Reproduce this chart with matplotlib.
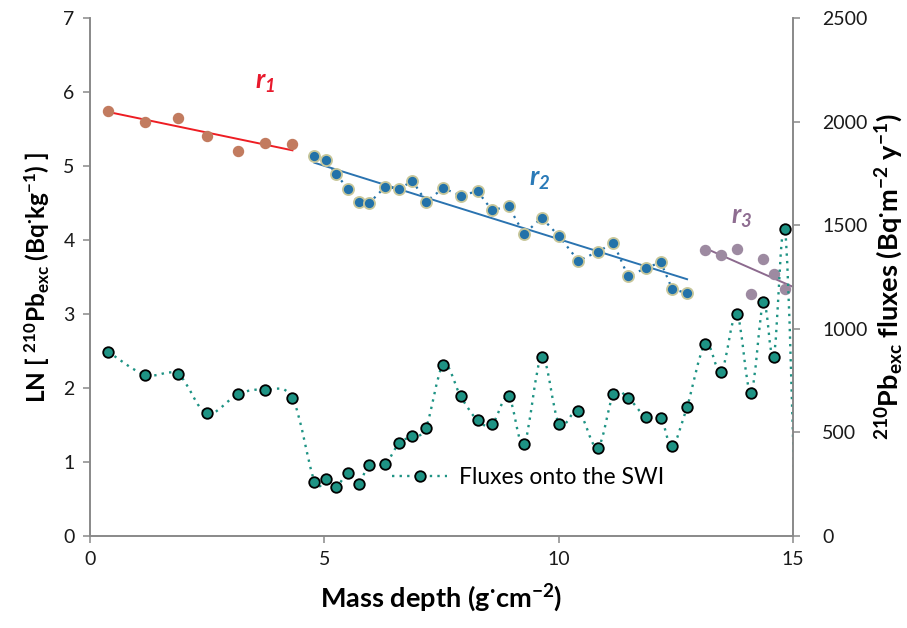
"""
210Pb excess profile: LN activity vs mass depth with three regression
segments (r1, r2, r3) and the fluxes onto the SWI on a secondary axis.
"""
import numpy as np
import matplotlib
matplotlib.use('Agg')
import matplotlib.pyplot as plt
from matplotlib.path import Path
from matplotlib.patches import PathPatch
from matplotlib.lines import Line2D

plt.rcParams['font.family'] = ['Lato', 'DejaVu Sans']
plt.rcParams['mathtext.fontset'] = 'custom'
plt.rcParams['mathtext.rm'] = 'Lato'
plt.rcParams['mathtext.it'] = 'Lato:italic'
plt.rcParams['mathtext.bf'] = 'Lato:bold'
plt.rcParams['mathtext.default'] = 'regular'

# segment r1
depth_r1 = [0.39, 1.18, 1.88, 2.49, 3.16, 3.74, 4.32]
ln_r1 = [5.75, 5.60, 5.65, 5.40, 5.20, 5.31, 5.30]

# segment r2
depth_r2 = [4.79, 5.04, 5.25, 5.51, 5.73, 5.96, 6.30, 6.60, 6.88, 7.17,
            7.54, 7.91, 8.27, 8.58, 8.93, 9.26, 9.64, 10.01, 10.42, 10.83,
            11.17, 11.48, 11.86, 12.18, 12.42, 12.74]
ln_r2 = [5.14, 5.08, 4.89, 4.69, 4.51, 4.50, 4.72, 4.69, 4.80, 4.52,
         4.70, 4.60, 4.66, 4.40, 4.46, 4.08, 4.30, 4.05, 3.72, 3.84,
         3.96, 3.51, 3.62, 3.70, 3.34, 3.28]

# segment r3
depth_r3 = [13.13, 13.47, 13.80, 14.10, 14.37, 14.59, 14.83]
ln_r3 = [3.86, 3.80, 3.88, 3.27, 3.75, 3.54, 3.34]

# fluxes onto the SWI (same depths, plus one point just past the axis end)
fluxes = [889, 777, 780, 592, 685, 706, 665,
          263, 275, 238, 303, 252, 344, 349, 450, 481, 523, 827, 674,
          558, 539, 674, 444, 865, 541, 603, 426, 684, 667, 574, 568,
          434, 624,
          928, 793, 1073, 690, 1129, 864, 1482]
tail_depth = 15.06
tail_flux = 30

C_R1_PT, C_R1_LN = '#C27B5F', '#EE1D23'
C_R2_PT, C_R2_LN, C_R2_EDGE = '#2372A9', '#2A73B0', '#C8C79A'
C_R3_PT, C_R3_LN = '#9D8AA1', '#8C6A8E'
C_FLUX = '#1E9384'
C_AXIS = '#898989'
FLUX_LS = (0, (1, 2.2))

fig = plt.figure(figsize=(9.07, 6.28), dpi=100)
ax1 = fig.add_axes([0.0992, 0.1465, 0.7751, 0.8248])
ax2 = ax1.twinx()


def fit_line(x, y, x_end=None):
    k, b = np.polyfit(x, y, 1)
    xs = np.array([x[0], x[-1] if x_end is None else x_end])
    return xs, k * xs + b


def smooth_path(x, y):
    # Excel-like smoothed line: cubic Bezier segments through every point
    pts = np.column_stack([x, y]).astype(float)
    n = len(pts)
    verts, codes = [pts[0]], [Path.MOVETO]
    for i in range(n - 1):
        p0 = pts[i - 1] if i > 0 else pts[i]
        p1, p2 = pts[i], pts[i + 1]
        p3 = pts[i + 2] if i + 2 < n else pts[i + 1]
        verts += [p1 + (p2 - p0) / 6, p2 - (p3 - p1) / 6, p2]
        codes += [Path.CURVE4] * 3
    return Path(verts, codes)


# === left axis: LN 210Pb exc ===
ax1.plot(depth_r1, ln_r1, 'o', ms=7.2, color=C_R1_PT, mec=C_R1_PT, zorder=3)
xs, ys = fit_line(depth_r1, ln_r1)
ax1.plot(xs, ys, color=C_R1_LN, lw=1.4, zorder=2)

ax1.plot(depth_r2, ln_r2, color=C_R2_PT, lw=1.6, ls=(0, (1, 2.4)),
         marker='o', ms=8, mfc=C_R2_PT, mec=C_R2_EDGE, mew=1.3, zorder=3)
xs, ys = fit_line(depth_r2, ln_r2)
ax1.plot(xs, ys, color=C_R2_LN, lw=1.4, zorder=2)

ax1.plot(depth_r3, ln_r3, 'o', ms=7.2, color=C_R3_PT, mec=C_R3_PT, zorder=3)
xs, ys = fit_line(depth_r3, ln_r3, x_end=15.0)
ax1.plot(xs, ys, color=C_R3_LN, lw=1.4, zorder=2)

# segment labels
lbl = dict(fontsize=19, fontweight='bold', style='italic', ha='center', va='center')
ax1.text(3.74, 6.12, '$r_1$', color='#E8192C', **lbl)
ax1.text(9.6, 4.81, '$r_2$', color='#2A7AB8', **lbl)
ax1.text(13.9, 4.30, '$r_3$', color='#8E6D91', **lbl)

ax1.set_xlim(0, 15)
ax1.set_ylim(0, 7)
ax1.set_xticks([0, 5, 10, 15])
ax1.set_yticks(range(0, 8))

# === right axis: fluxes ===
depth_all = depth_r1 + depth_r2 + depth_r3
curve = PathPatch(smooth_path(depth_all + [tail_depth], fluxes + [tail_flux]),
                  fill=False, edgecolor=C_FLUX, lw=1.7, ls=FLUX_LS,
                  transform=ax2.transData)
ax2.add_patch(curve)
ax2.plot(depth_all, fluxes, ls='none', marker='o', ms=7.6, mfc=C_FLUX,
         mec='black', mew=1.3)
ax2.set_xlim(0, 15)
ax2.set_ylim(0, 2500)
ax2.set_yticks(range(0, 2501, 500))

# spines / ticks
for ax in (ax1, ax2):
    ax.spines['top'].set_visible(False)
    for side in ('left', 'right', 'bottom'):
        ax.spines[side].set_color(C_AXIS)
        ax.spines[side].set_linewidth(1.2)
    ax.tick_params(colors=C_AXIS, labelcolor='#1A1A1A', labelsize=14,
                   length=5, width=1.1, pad=6)
ax2.tick_params(axis='y', pad=16)

ax1.set_xlabel('Mass depth (g$^{·}$cm$^{-2}$)', fontsize=19.5,
               fontweight='bold', labelpad=10)
ax1.set_ylabel('LN [ $^{210}$Pb$_{exc}$ (Bq$^{·}$kg$^{-1}$) ]', fontsize=17.5,
               fontweight='bold', labelpad=8)
ax2.set_ylabel('$^{210}$Pb$_{exc}$ fluxes (Bq$^{·}$m$^{-2}$ y$^{-1}$)',
               fontsize=19.5, fontweight='bold', labelpad=4)

handle = Line2D([], [], color=C_FLUX, lw=1.7, ls=FLUX_LS, marker='o', ms=7.6,
                mfc=C_FLUX, mec='black', mew=1.3)
ax2.legend([handle], ['Fluxes onto the SWI'], loc='center left',
           bbox_to_anchor=(0.43, 0.112), frameon=False, fontsize=16.5,
           handlelength=2.4, handletextpad=0.5, borderpad=0, borderaxespad=0)

plt.savefig('out.png', dpi=100, facecolor='white')
plt.close(fig)
